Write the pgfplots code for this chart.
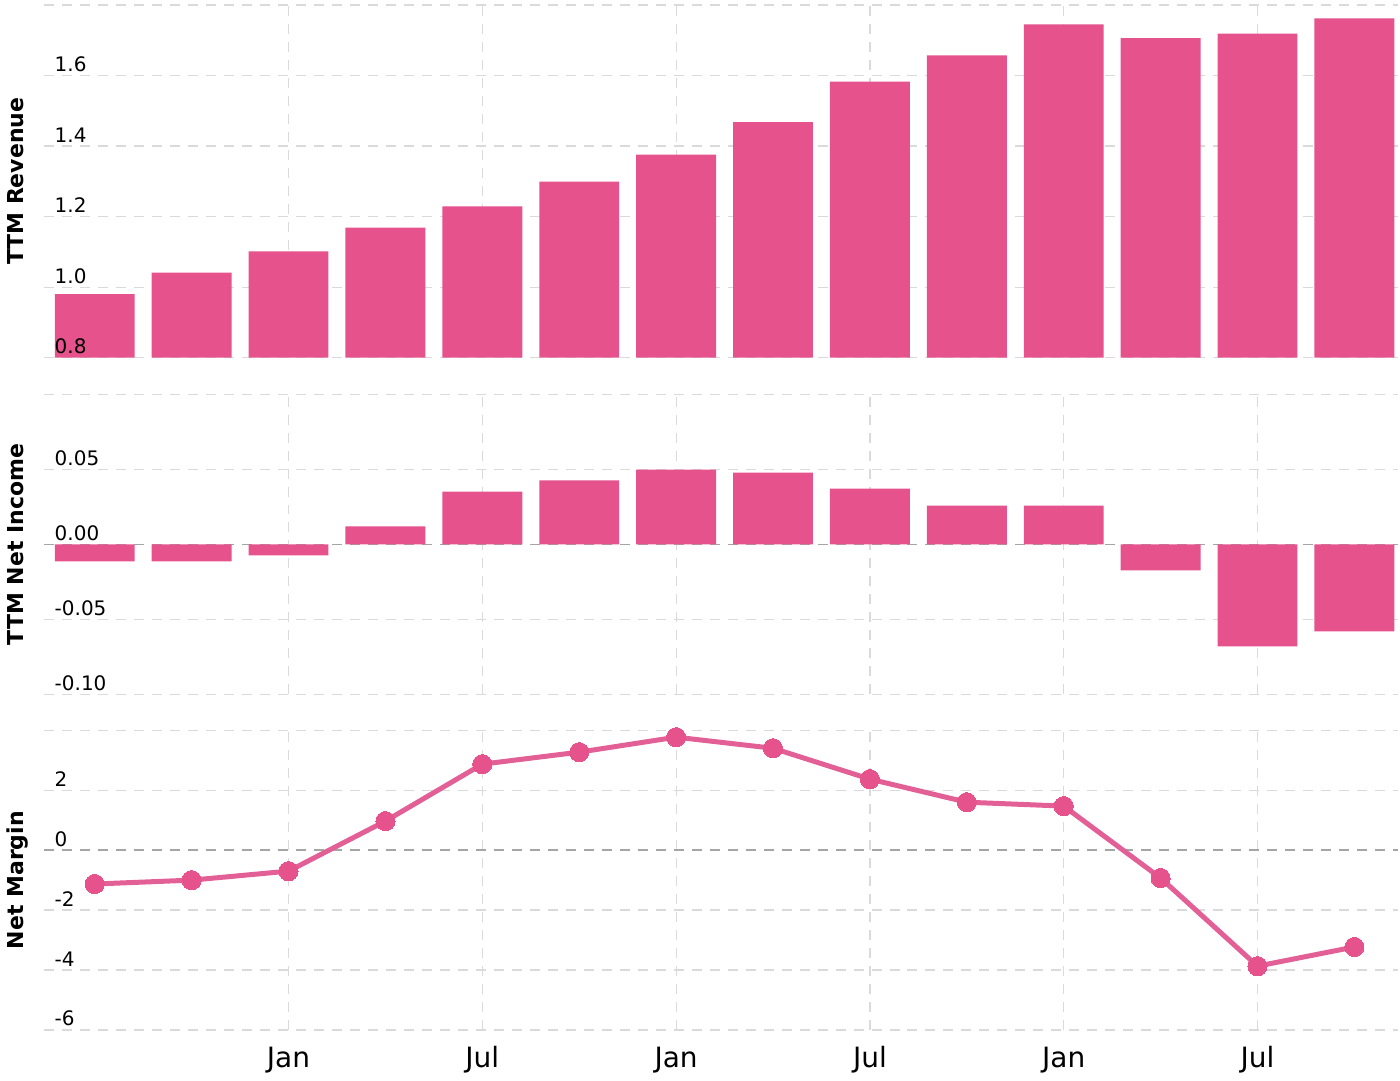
\documentclass[border=0pt]{standalone}
\usepackage{pgfplots}
\pgfplotsset{compat=1.18}
\usepackage{fontspec}
\setmainfont{DejaVu Sans}
\definecolor{barpink}{RGB}{229,82,140}
\definecolor{linepink}{RGB}{226,96,150}
\definecolor{gridgray}{RGB}{218,218,218}
\definecolor{zerogray}{RGB}{165,165,165}
\pgfplotsset{
  layers/labelsontop/.define layer set={axis background,axis grid,axis ticks,axis lines,pre main,main,axis tick labels,axis descriptions,axis foreground}{
    grid style={/pgfplots/on layer=axis grid},
    tick style={/pgfplots/on layer=axis ticks},
    axis line style={/pgfplots/on layer=axis lines},
    label style={/pgfplots/on layer=axis descriptions},
    legend style={/pgfplots/on layer=axis descriptions},
    title style={/pgfplots/on layer=axis descriptions},
    colorbar style={/pgfplots/on layer=axis descriptions},
    ticklabel style={/pgfplots/on layer=axis tick labels},
    axis background@ style={/pgfplots/on layer=axis background},
    3d box foreground style={/pgfplots/on layer=axis foreground},
  },
  panel/.style={
    set layers=labelsontop,
    scale only axis, width=677.5pt,
    xmin=-0.52, xmax=13.45,
    axis line style={draw=none},
    major tick length=0pt,
    xtick={2,4,6,8,10,12},
    xticklabels={},
    xmajorgrids, ymajorgrids,
    major grid style={gridgray, line width=0.6pt, dash pattern=on 5pt off 4pt},
    yticklabel style={anchor=base west, inner sep=0pt, xshift=5pt, yshift=2pt, font=\fontsize{10}{12}\selectfont},
    ylabel style={at={(axis description cs:-0.0155,0.5)}, anchor=base, font=\bfseries\fontsize{11}{13}\selectfont},
    extra y tick style={major grid style={zerogray, line width=0.7pt, dash pattern=on 5pt off 4pt}},
  }
}
\begin{document}
\begin{tikzpicture}
% Panel 1: TTM Revenue
\begin{axis}[panel, at={(21.5pt,-2.5pt)}, anchor=north west, height=176.5pt,
  ymin=0.8, ymax=1.8,
  ytick={0.8,1.0,1.2,1.4,1.6,1.8},
  yticklabels={0.8,1.0,1.2,1.4,1.6,{}},
  ylabel={TTM Revenue}]
\addplot[ybar, bar width=40pt, bar shift=0pt, fill=barpink, draw=none] coordinates {
(0,0.980) (1,1.041) (2,1.101) (3,1.169) (4,1.229) (5,1.299) (6,1.376)
(7,1.468) (8,1.583) (9,1.657) (10,1.745) (11,1.706) (12,1.719) (13,1.762)};
\end{axis}
% Panel 2: TTM Net Income
\begin{axis}[panel, at={(21.5pt,-197.5pt)}, anchor=north west, height=150pt,
  ymin=-0.1, ymax=0.1,
  ytick={-0.1,-0.05,0.05,0.1},
  yticklabels={-0.10,-0.05,0.05,{}},
  extra y ticks={0}, extra y tick labels={0.00},
  ylabel={TTM Net Income}]
\addplot[ybar, bar width=40pt, bar shift=0pt, fill=barpink, draw=none] coordinates {
(0,-0.0113) (1,-0.0113) (2,-0.0073) (3,0.0120) (4,0.0353) (5,0.0427) (6,0.0500)
(7,0.0480) (8,0.0373) (9,0.0260) (10,0.0260) (11,-0.0173) (12,-0.0680) (13,-0.0580)};
\end{axis}
% Panel 3: Net Margin
\begin{axis}[panel, at={(21.5pt,-365.5pt)}, anchor=north west, height=150pt,
  ymin=-6, ymax=4,
  ytick={-6,-4,-2,2,4},
  yticklabels={-6,-4,-2,2,{}},
  extra y ticks={0}, extra y tick labels={0},
  xticklabels={Jan,Jul,Jan,Jul,Jan,Jul},
  xticklabel style={font=\fontsize{14}{16}\selectfont, yshift=-4.8pt},
  ylabel={Net Margin}]
\addplot[linepink, line width=2.5pt, mark=*, mark size=4.8pt,
  mark options={fill=barpink, draw=barpink, line width=0pt}] coordinates {
(0,-1.13) (1,-1.00) (2,-0.70) (3,0.97) (4,2.87) (5,3.27) (6,3.77)
(7,3.40) (8,2.37) (9,1.60) (10,1.47) (11,-0.93) (12,-3.87) (13,-3.23)};
\end{axis}
\path (0,0) rectangle (700pt,-537.5pt);
\end{tikzpicture}
\end{document}
